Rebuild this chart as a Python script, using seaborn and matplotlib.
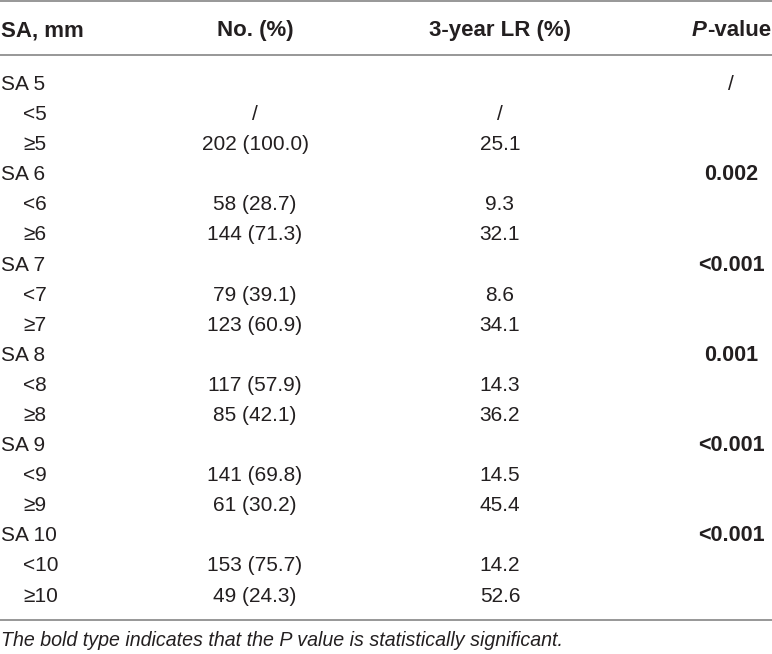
import matplotlib
matplotlib.use("Agg")
import matplotlib.pyplot as plt
import seaborn as sns

sns.set_theme(style="white")
plt.rcParams['font.family'] = ['Liberation Sans', 'DejaVu Sans']

# ---- data ----
headers = ["SA, mm", "No. (%)", "3-year LR (%)", "P-value"]
thresholds = [5, 6, 7, 8, 9, 10]
n_below = [None, 58, 79, 117, 141, 153]
pct_below = [None, 28.7, 39.1, 57.9, 69.8, 75.7]
n_above = [202, 144, 123, 85, 61, 49]
pct_above = [100.0, 71.3, 60.9, 42.1, 30.2, 24.3]
lr_below = [None, 9.3, 8.6, 14.3, 14.5, 14.2]
lr_above = [25.1, 32.1, 34.1, 36.2, 45.4, 52.6]
p_values = ["/", "0.002", "<0.001", "0.001", "<0.001", "<0.001"]
footnote = "The bold type indicates that the P value is statistically significant."

# ---- build rows ----
rows = []  # (label, indent, no_text, lr_text, p_text)
for i, t in enumerate(thresholds):
    rows.append((f"SA {t}", False, "", "", p_values[i]))
    nb = "/" if n_below[i] is None else f"{n_below[i]} ({pct_below[i]:.1f})"
    lb = "/" if lr_below[i] is None else f"{lr_below[i]:.1f}"
    rows.append((f"<{t}", True, nb, lb, ""))
    rows.append((f"\u2265{t}", True, f"{n_above[i]} ({pct_above[i]:.1f})",
                 f"{lr_above[i]:.1f}", ""))

# ---- layout (pixels) ----
W, H = 772, 654
first_base = 90.0
pitch = 30.09
def r(px):
    return (px - first_base) / pitch

fig = plt.figure(figsize=(W / 100, H / 100), dpi=100)
ax = fig.add_axes([0, 0, 1, 1])
ax.set_xlim(0, W)
ax.set_ylim(r(H), r(0))
ax.axis("off")

txt = "#231f20"
fs = 15
fs_head = 16
fs_bold = 15.5
x_lab, x_ind, x_no, x_lr, x_p, x_ph = 1, 23, 255, 500, 731, 771

# header
hy = r(36)
ax.text(x_lab, hy, headers[0], ha="left", va="baseline", fontsize=fs_head, fontweight="bold", color=txt)
ax.text(x_no, hy, headers[1], ha="center", va="baseline", fontsize=fs_head, fontweight="bold", color=txt)
ax.text(x_lr, hy, headers[2], ha="center", va="baseline", fontsize=fs_head, fontweight="bold", color=txt)
pv_head = headers[3]
t_rest = ax.text(x_ph, hy, pv_head[1:], ha="right", va="baseline", fontsize=fs_head, fontweight="bold", color=txt)
fig.canvas.draw()
rend = fig.canvas.get_renderer()
bb = t_rest.get_window_extent(rend)
x_left = ax.transData.inverted().transform((bb.x0, bb.y0))[0]
ax.text(x_left, hy, pv_head[0], ha="right", va="baseline", fontsize=fs_head, fontweight="bold",
        fontstyle="italic", color=txt)

# body
for i, (lab, ind, no, lr, p) in enumerate(rows):
    ax.text(x_ind if ind else x_lab, i, lab, ha="left", va="baseline", fontsize=fs, color=txt)
    if no:
        ax.text(x_no, i, no, ha="center", va="baseline", fontsize=fs, color=txt)
    if lr:
        ax.text(x_lr, i, lr, ha="center", va="baseline", fontsize=fs, color=txt)
    if p:
        bold = p != "/"
        ax.text(x_p, i, p, ha="center", va="baseline", fontsize=fs_bold if bold else fs,
                fontweight="bold" if bold else "normal", color=txt)

# rules
for py in (0.6, 55, 620):
    ax.axhline(r(py), color="#8f8f8f", lw=1.3)

ax.text(x_lab, r(646), footnote, ha="left", va="baseline", fontsize=14.1,
        fontstyle="italic", color=txt)

fig.savefig("out.png", dpi=100)
